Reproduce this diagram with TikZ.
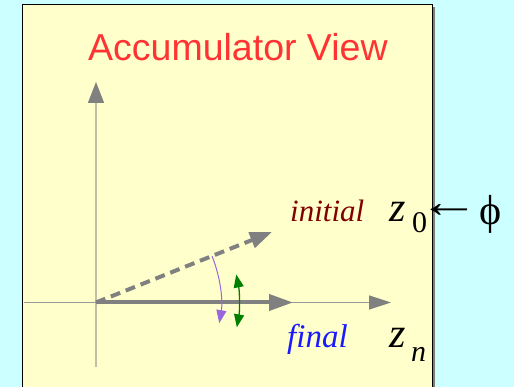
\documentclass[tikz,border=0pt]{standalone}
\usepackage{fontspec}
\setmainfont{Liberation Serif}
\newfontfamily\titlesans{Liberation Sans}
\usetikzlibrary{arrows.meta}
\definecolor{bgcyan}{HTML}{CCFFFF}
\definecolor{boxyellow}{HTML}{FFFFCC}
\definecolor{shadowgray}{HTML}{7F8070}
\definecolor{titlered}{HTML}{FF3333}
\definecolor{axisgray}{HTML}{999999}
\definecolor{vaxis}{HTML}{C0C0A8}
\definecolor{headgray}{HTML}{808080}
\definecolor{darkred}{HTML}{800000}
\definecolor{finalblue}{HTML}{1A1AFF}
\definecolor{arcpurple}{HTML}{9966DD}
\definecolor{arcgreen}{HTML}{008000}
\tikzset{
  lbl/.style={inner sep=0pt, anchor=base west},
}
\begin{document}
\begin{tikzpicture}[x=1pt,y=1pt]
\useasboundingbox (0,0) rectangle (514,387);
\fill[bgcyan] (0,0) rectangle (514,387);
% shadow and box
\fill[shadowgray] (432,-2) rectangle (434.5,380);
\filldraw[fill=boxyellow, draw=black, line width=1pt] (22.5,-5) rectangle (432,382);
% title
\node[lbl, text=titlered, font=\titlesans\fontsize{37.5}{40}\selectfont] (title) at (88,326) {Accumulator View};
% coordinates
\coordinate (O) at (96,84.5);
\coordinate (vbot) at (96,20);
\coordinate (vtop) at (96,305);
\coordinate (hleft) at (24,84.5);
\coordinate (hright) at (391,84.5);
\coordinate (fin) at (293,84.5);
\coordinate (ini) at (272,155);
% axes
\draw[vaxis, line width=1.6pt, -{Triangle[length=21pt,width=16pt,color=headgray]}] (vbot) -- (vtop);
\draw[axisgray, line width=1.5pt, -{Triangle[length=22pt,width=14pt,color=headgray]}] (hleft) -- (hright);
% final vector
\draw[headgray, line width=4pt, -{Triangle[length=24pt,width=16pt,color=headgray]}] (O) -- (fin);
% initial vector (dashed)
\draw[headgray, line width=4pt, dash pattern=on 10pt off 6pt, -{Triangle[length=22pt,width=16pt,color=headgray]}] (O) -- (ini);
% purple arc
\draw[arcpurple, line width=1pt, -{Triangle[length=13pt,width=10pt]}] (O) ++(21.7:125) arc[start angle=21.7, end angle=-9.5, radius=125pt];
% green double arc
\draw[arcgreen, line width=1.3pt, {Triangle[length=13pt,width=10pt]}-{Triangle[length=13pt,width=10pt]}] (O) ++(-10:143) arc[start angle=-10, end angle=11.3, radius=143pt];
% labels
\node[lbl, text=darkred, font=\itshape\fontsize{31}{34}\selectfont] (initial) at (290,165) {initial};
\node[lbl, font=\itshape\fontsize{42}{44}\selectfont] (z0) at (389,165) {z};
\node[lbl, font=\fontsize{30}{32}\selectfont] (zero) at (412,154) {0};
\node[inner sep=0pt, anchor=west, font=\fontsize{46}{48}\selectfont] (larr) at (433,176) {\makebox[37pt][l]{\hspace*{-15pt}\scalebox{1.34}[1]{←}}};
\node[inner sep=0pt, anchor=center, font=\fontsize{42}{44}\selectfont] (phi) at (490.5,172.5) {ϕ};
\node[lbl, text=finalblue, font=\itshape\fontsize{33}{36}\selectfont] (final) at (287,39) {f{}inal};
\node[lbl, font=\itshape\fontsize{42}{44}\selectfont] (zn) at (389,39) {z};
\node[lbl, font=\itshape\fontsize{30}{32}\selectfont] (n) at (411,25) {n};
\end{tikzpicture}
\end{document}
